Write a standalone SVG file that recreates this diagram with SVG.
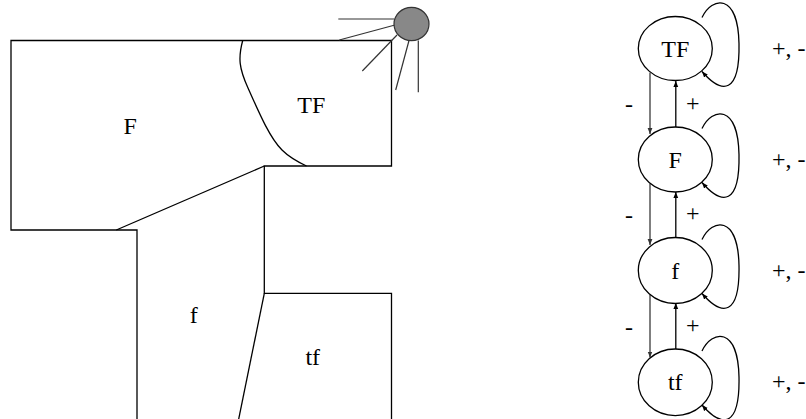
<svg xmlns="http://www.w3.org/2000/svg" width="806" height="419" viewBox="0 0 806 419">
<defs>
<style>
.ln{fill:none;stroke:#000;stroke-width:1.3}
.ray{fill:none;stroke:#333;stroke-width:1.2}
.node{fill:#fff;stroke:#000;stroke-width:1.3}
.t{font-family:"Liberation Serif","Times New Roman",serif;font-size:24px;fill:#000;text-anchor:middle}
.tl{font-family:"Liberation Serif","Times New Roman",serif;font-size:24px;fill:#000}
.down{fill:none;stroke:#555;stroke-width:1.5}
.up{fill:none;stroke:#000;stroke-width:1.3}
.loop{fill:none;stroke:#000;stroke-width:1.3}
</style>
<marker id="ah" viewBox="0 0 10 10" refX="10" refY="5" markerWidth="6" markerHeight="6" markerUnits="userSpaceOnUse" orient="auto">
<path d="M0,1 L10,5 L0,9 Z" fill="#000"/>
</marker>
<marker id="ahg" viewBox="0 0 10 10" refX="10" refY="5" markerWidth="6" markerHeight="6" markerUnits="userSpaceOnUse" orient="auto">
<path d="M0,1 L10,5 L0,9 Z" fill="#333"/>
</marker>
</defs>
<rect width="806" height="419" fill="#fff"/>

<g id="plan">
<path class="ln" d="M137,421 V230 H11 V40.5 H391.5 V166 H264.3 V293.3 H391.5 V421"/>
<path class="ln" d="M264.3,293.3 L238.3,421"/>
<path class="ln" d="M116.3,230 L264.3,166"/>
<path class="ln" d="M242.7,40.5 C238,58 239,68 248,88 C260,115 270,138 282,150 C290,158 298,162 306.5,166"/>
<text class="t" x="130.3" y="134">F</text>
<text class="t" x="311.3" y="112.7">TF</text>
<text class="t" x="193.7" y="323.3">f</text>
<text class="t" x="312.8" y="365">tf</text>
</g>

<g id="sun">
<line class="ray" x1="338.3" y1="19" x2="394.5" y2="19"/>
<line class="ray" x1="339.3" y1="40" x2="395" y2="25"/>
<line class="ray" x1="362.3" y1="71" x2="397" y2="35"/>
<line class="ray" x1="395.7" y1="90" x2="409" y2="40.5"/>
<line class="ray" x1="418.3" y1="40.5" x2="418.3" y2="92.3"/>
<ellipse cx="411.5" cy="24" rx="17.5" ry="16.7" fill="#888" stroke="#333" stroke-width="1.2"/>
</g>

<g id="connectors">
<line class="down" x1="650" y1="72.5" x2="650" y2="134" marker-end="url(#ahg)"/>
<line class="up" x1="675.8" y1="127" x2="675.8" y2="81" marker-end="url(#ah)"/>
<line class="down" x1="650" y1="183.5" x2="650" y2="245" marker-end="url(#ahg)"/>
<line class="up" x1="675.8" y1="238" x2="675.8" y2="192" marker-end="url(#ah)"/>
<line class="down" x1="650" y1="294.5" x2="650" y2="357.5" marker-end="url(#ahg)"/>
<line class="up" x1="675.8" y1="349.5" x2="675.8" y2="303" marker-end="url(#ah)"/>
<path class="loop" d="M702,17.5 C712,-3.5 738,-7.5 739,43.5 C740,94.5 722,94.5 702,71.5" marker-end="url(#ah)"/>
<path class="loop" d="M702,128.5 C712,107.5 738,103.5 739,154.5 C740,205.5 722,205.5 702,182.5" marker-end="url(#ah)"/>
<path class="loop" d="M702,239.5 C712,218.5 738,214.5 739,265.5 C740,316.5 722,316.5 702,293.5" marker-end="url(#ah)"/>
<path class="loop" d="M702,351 C712,330 738,326 739,377 C740,428 722,428 702,405" marker-end="url(#ah)"/>
<text class="tl" x="625" y="112">-</text>
<text class="tl" x="686" y="111">+</text>
<text class="tl" x="625" y="223.3">-</text>
<text class="tl" x="686" y="221">+</text>
<text class="tl" x="625" y="335.3">-</text>
<text class="tl" x="686" y="333.3">+</text>
<text class="tl" x="772" y="55.5">+, -</text>
<text class="tl" x="772" y="166.5">+, -</text>
<text class="tl" x="772" y="277.5">+, -</text>
<text class="tl" x="772" y="389">+, -</text>
</g>

<g id="node-TF">
<ellipse class="node" cx="675.3" cy="48.5" rx="37" ry="32"/>
<text class="t" x="675.3" y="56.5">TF</text>
</g>
<g id="node-F">
<ellipse class="node" cx="675.3" cy="159.5" rx="37" ry="32.5"/>
<text class="t" x="675.3" y="167.5">F</text>
</g>
<g id="node-f">
<ellipse class="node" cx="675.3" cy="270.5" rx="37" ry="33"/>
<text class="t" x="675.3" y="278.5">f</text>
</g>
<g id="node-tf">
<ellipse class="node" cx="675.3" cy="382.3" rx="37" ry="33.3"/>
<text class="t" x="675.3" y="390.3">tf</text>
</g>
</svg>
